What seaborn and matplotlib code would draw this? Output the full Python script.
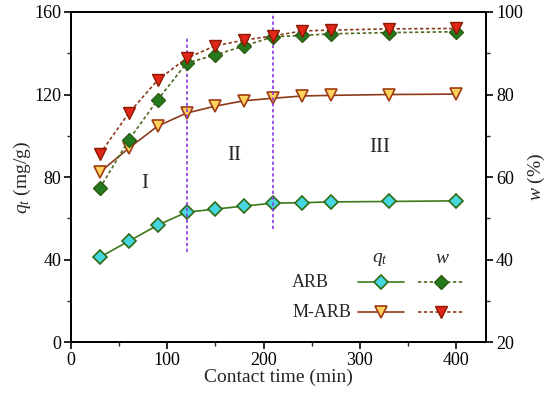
import numpy as np
import pandas as pd
import seaborn as sns
import matplotlib.pyplot as plt
from matplotlib.ticker import MultipleLocator

# data
time = [30, 60, 90, 120, 150, 180, 210, 240, 270, 330, 400]
arb_qt = [41.2, 49.0, 56.7, 63.0, 64.5, 66.0, 67.4, 67.6, 68.0, 68.2, 68.5]
marb_qt = [82.4, 94.0, 104.7, 111.0, 114.4, 117.0, 118.2, 119.3, 119.6, 120.0, 120.2]
arb_w = [57.3, 69.0, 78.7, 87.6, 89.6, 91.8, 94.0, 94.3, 94.7, 95.0, 95.2]
marb_w = [65.6, 75.5, 83.5, 88.8, 91.8, 93.2, 94.2, 95.4, 95.6, 95.9, 96.0]
stage_bounds = [120, 210]
stage_labels = ["I", "II", "III"]
series_names = ["ARB", "M-ARB"]

sns.set_style("ticks")
plt.rcParams['font.family'] = ['Liberation Serif', 'DejaVu Serif']
plt.rcParams['mathtext.fontset'] = 'custom'
plt.rcParams['mathtext.rm'] = 'Liberation Serif'
plt.rcParams['mathtext.it'] = 'Liberation Serif:italic'
plt.rcParams['font.size'] = 13

fig = plt.figure(figsize=(5.5, 3.98), dpi=100)
ax = fig.add_axes([0.129, 0.14, 0.755, 0.83])
ax2 = ax.twinx()

green = "#3d7a1c"
brown = "#8b3a1a"

sns.lineplot(x=time, y=arb_qt, ax=ax, color=green, lw=1.2, marker='D', ms=7,
             markerfacecolor="#46d6e0", markeredgecolor="#2f6a14", mew=1.2)
sns.lineplot(x=time, y=marb_qt, ax=ax, color=brown, lw=1.2, marker='v', ms=9,
             markerfacecolor="#ffd45e", markeredgecolor="#a03c14", mew=1.2)
sns.lineplot(x=time, y=arb_w, ax=ax2, color="#4d6b1e", lw=1.2, ls=(0, (2, 1.5)),
             marker='D', ms=7, markerfacecolor="#237a1e", markeredgecolor="#2f5a10", mew=1.0)
sns.lineplot(x=time, y=marb_w, ax=ax2, color=brown, lw=1.2, ls=(0, (2, 1.5)),
             marker='v', ms=9, markerfacecolor="#e2261a", markeredgecolor="#8b1a00", mew=1.0)

# stage boundaries
ax.vlines(stage_bounds[0], 43.5, 148, color="#8a3be0", ls=(0, (2, 1.5)), lw=1.2)
ax.vlines(stage_bounds[1], 55, 160, color="#8a3be0", ls=(0, (2, 1.5)), lw=1.2)
ax.text(77, 77, stage_labels[0], fontsize=15, ha='center', va='center')
ax.text(170, 90.5, stage_labels[1], fontsize=15, ha='center', va='center')
ax.text(321, 94.5, stage_labels[2], fontsize=15, ha='center', va='center')

ax.set_xlim(0, 431)
ax.set_ylim(0, 160)
ax2.set_ylim(20, 100)
ax.xaxis.set_major_locator(MultipleLocator(100))
ax.xaxis.set_minor_locator(MultipleLocator(50))
ax.yaxis.set_major_locator(MultipleLocator(40))
ax.yaxis.set_minor_locator(MultipleLocator(20))
ax2.yaxis.set_major_locator(MultipleLocator(20))
ax2.yaxis.set_minor_locator(MultipleLocator(10))

ax.set_xlabel("Contact time (min)", fontsize=14, labelpad=0)
ax.set_ylabel("$q_t$ (mg/g)", fontsize=14, labelpad=1)
ax2.set_ylabel("$w$ (%)", fontsize=14, labelpad=2)

for a in (ax, ax2):
    for s in a.spines.values():
        s.set_linewidth(1.3)
        s.set_color("black")
    a.tick_params(which='major', length=5, width=1.2, direction='out', labelsize=13,
                  colors='black', pad=2)
    a.tick_params(which='minor', length=3, width=1.0, direction='out')
ax.tick_params(axis='y', which='both', right=False)

# legend: handles in two columns (q_t, w), row names as left-aligned text
h = ax.lines[:2] + ax2.lines[:2]
leg = ax.legend(h, ["", "", "", ""], ncol=2, loc='lower left',
                bbox_to_anchor=(0.692, 0.06), frameon=False,
                handlelength=2.55, handletextpad=0.0, columnspacing=0.75,
                labelspacing=0.75, fontsize=13, borderaxespad=0, borderpad=0)
ax.text(0.533, 0.182, series_names[0], transform=ax.transAxes, fontsize=13, ha='left', va='center')
ax.text(0.533, 0.091, series_names[1], transform=ax.transAxes, fontsize=13, ha='left', va='center')
ax.text(0.745, 0.25, "$q_t$", transform=ax.transAxes, fontsize=14, ha='center', va='center')
ax.text(0.894, 0.255, "$w$", transform=ax.transAxes, fontsize=14, ha='center', va='center')

fig.savefig("out.png", dpi=100)
